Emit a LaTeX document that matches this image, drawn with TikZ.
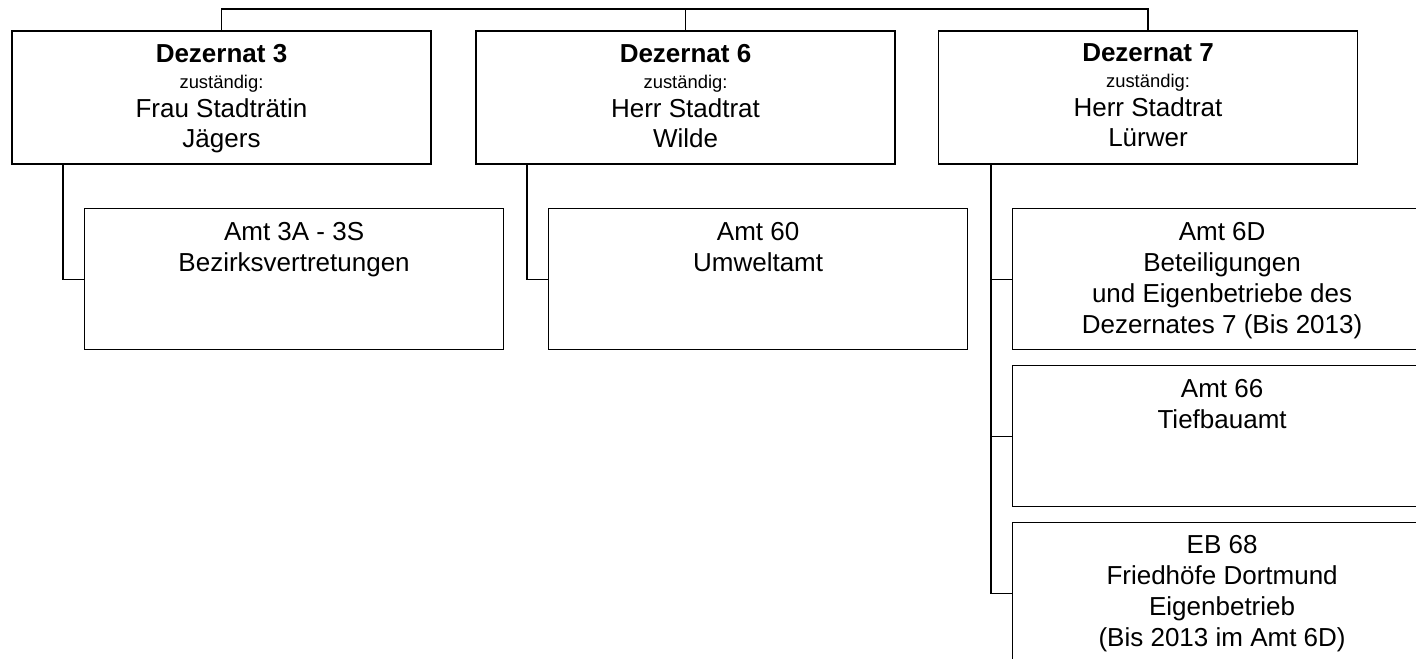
\documentclass[tikz,border=0pt]{standalone}
\usepackage{fontspec}
\setmainfont{Liberation Sans}
\usetikzlibrary{positioning}
\tikzset{
  box/.style={draw, line width=0.9pt, minimum width=314.25pt, inner sep=0pt},
  dez/.style={box, minimum height=99.75pt},
  amt/.style={box, minimum height=105.75pt, anchor=north west},
  txt/.style={align=center, inner sep=0pt, anchor=north, font=\fontsize{19.5}{23.25}\selectfont},
  line/.style={draw, line width=0.9pt}
}
\newcommand{\klein}[1]{{\fontsize{13.8}{16}\selectfont #1}}

\begin{document}
\begin{tikzpicture}[x=0.75pt, y=-0.75pt]
\useasboundingbox (0,0) rectangle (1416,659);
% Dezernate
\node[dez] (d3) at (221.5,97.5) {};
\node[dez] (d6) at (685.5,97.5) {};
\node[dez] (d7) at (1148,97.5) {};
\node[txt, below=10pt of d3.north] (d3t) {\textbf{Dezernat 3}\\[-3.75pt] \klein{zuständig:}\\[-1.5pt] Frau Stadträtin\\[-0.75pt] Jägers};
\node[txt, below=10pt of d6.north] (d6t) {\textbf{Dezernat 6}\\[-3.75pt] \klein{zuständig:}\\[-1.5pt] Herr Stadtrat\\[-0.75pt] Wilde};
\node[txt, below=10pt of d7.north] (d7t) {\textbf{Dezernat 7}\\[-3.75pt] \klein{zuständig:}\\[-1.5pt] Herr Stadtrat\\[-0.75pt] Lürwer};
% Aemter
\node[amt] (a3) at (84,208) {};
\node[amt] (a60) at (548,208) {};
\node[amt] (a6d) at (1012,208) {};
\node[amt] (a66) at (1012,365) {};
\node[amt] (eb68) at (1012,522) {};
\node[txt, below=10.5pt of a3.north] (a3t) {Amt 3A - 3S\\ Bezirksvertretungen};
\node[txt, below=10.5pt of a60.north] (a60t) {Amt 60\\ Umweltamt};
\node[txt, below=10.5pt of a6d.north] (a6dt) {Amt 6D\\ Beteiligungen\\ und Eigenbetriebe des\\ Dezernates 7 (Bis 2013)};
\node[txt, below=10.5pt of a66.north] (a66t) {Amt 66\\ Tiefbauamt};
\node[txt, below=10pt of eb68.north] (eb68t) {EB 68\\ Friedhöfe Dortmund\\ Eigenbetrieb\\ (Bis 2013 im Amt 6D)};
% Linien
\coordinate (bus) at (685.5,9);
\coordinate (k3) at (63,164);
\coordinate (k6) at (527,164);
\coordinate (k7) at (991,164);
\draw[line] (d3.north) |- (bus) -| (d7.north);
\draw[line] (d6.north) -- (bus);
\draw[line] (k3) |- (a3.west);
\draw[line] (k6) |- (a60.west);
\draw[line] (k7) |- (eb68.west);
\draw[line] (k7 |- a6d.west) -- (a6d.west);
\draw[line] (k7 |- a66.west) -- (a66.west);
\end{tikzpicture}
\end{document}
